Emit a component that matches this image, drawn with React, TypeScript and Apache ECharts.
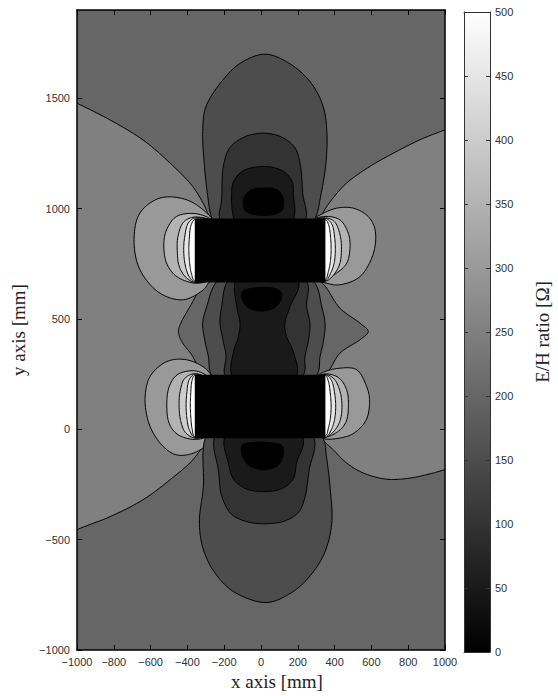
import React, { useEffect, useRef } from "react";
import * as echarts from "echarts";

// ---- axis ranges / ticks ----
const xMin = -1000, xMax = 1000, xStep = 200;
const yMin = -1000, yMax = 1900, yStep = 500;
const cbMin = 0, cbMax = 500, cbStep = 50;

// ---- conductor plates (x0, y0, x1, y1) in mm ----
const plates = [
  [-360, 665, 350, 955],
  [-360, -40, 350, 247],
];

// ---- contour regions (mm), with their level in ohm ----
// level 250
const bandLeft250 = [[-1200,1560],[-1000,1478],[-821,1402],[-641,1311],[-495,1207],[-370,1099],[-300,1000],[-280,955],[-200,800],[-200,100],[-290,-40],[-370,-138],[-495,-229],[-641,-319],[-821,-396],[-1000,-455],[-1200,-540]];
const bandRight250 = [[1200,1420],[1000,1357],[864,1312],[719,1251],[592,1191],[466,1116],[384,1040],[330,970],[250,800],[250,100],[330,-40],[393,-93],[466,-153],[556,-198],[683,-226],[810,-221],[936,-198],[1000,-183],[1200,-150]];
// level 200 (between the plates)
const gap200 = [[-304,665],[-386,556],[-440,473],[-449,443],[-431,398],[-377,338],[-313,247],[-200,200],[200,200],[348,247],[429,345],[538,406],[583,443],[538,481],[429,549],[330,665],[200,720],[-200,720]];
// lobes at the plate ends: 300, 350, 400, 450, 500
const lobeTL300 = [[-295,980],[-404,1040],[-549,1048],[-658,980],[-690,859],[-658,723],[-549,617],[-422,587],[-314,632],[-286,662],[-250,700],[-250,930]];
const lobeTL350 = [[-340,975],[-458,965],[-513,904],[-528,843],[-513,753],[-458,692],[-340,662],[-250,700],[-250,930]];
const lobeTL400 = [[-355,962],[-420,940],[-451,875],[-455,810],[-445,740],[-410,690],[-355,665],[-250,700],[-250,930]];
const lobeTL450 = [[-358,958],[-395,935],[-415,870],[-420,810],[-412,745],[-392,695],[-358,667],[-250,700],[-250,930]];
const lobeTL500 = [[-360,950],[-380,925],[-390,860],[-392,810],[-388,755],[-378,705],[-360,672],[-250,700],[-250,930]];
const lobeTR300 = [[330,975],[411,1002],[502,1002],[583,964],[620,904],[611,798],[538,692],[429,655],[357,662],[250,700],[250,930]];
const lobeTR350 = [[340,964],[429,949],[474,889],[484,828],[466,753],[411,708],[345,680],[250,700],[250,930]];
const lobeTR400 = [[352,958],[400,940],[430,880],[437,815],[428,750],[395,700],[352,672],[250,700],[250,930]];
const lobeTR450 = [[352,955],[385,930],[400,870],[404,815],[398,755],[380,710],[352,675],[250,700],[250,930]];
const lobeTR500 = [[350,950],[368,925],[378,870],[381,815],[377,760],[366,715],[350,680],[250,700],[250,930]];
const lobeBL300 = [[-295,270],[-404,315],[-512,307],[-603,239],[-630,135],[-603,13],[-531,-78],[-458,-116],[-368,-108],[-286,-63],[-250,0],[-250,200]];
const lobeBL350 = [[-340,262],[-450,250],[-498,195],[-512,110],[-498,25],[-450,-25],[-340,-45],[-250,0],[-250,200]];
const lobeBL400 = [[-355,252],[-415,230],[-440,170],[-445,105],[-437,40],[-410,-15],[-355,-40],[-250,0],[-250,200]];
const lobeBL450 = [[-358,250],[-390,225],[-403,165],[-407,105],[-402,45],[-388,-5],[-358,-38],[-250,0],[-250,200]];
const lobeBL500 = [[-360,245],[-375,220],[-382,160],[-384,105],[-381,50],[-374,0],[-360,-35],[-250,0],[-250,200]];
const lobeBR300 = [[330,255],[429,277],[520,270],[574,194],[590,134],[572,43],[500,-20],[411,-42],[340,-42],[250,0],[250,200]];
const lobeBR350 = [[340,250],[420,235],[465,180],[475,105],[460,30],[410,-15],[340,-35],[250,0],[250,200]];
const lobeBR400 = [[352,248],[400,225],[430,170],[440,105],[430,40],[400,-5],[352,-35],[250,0],[250,200]];
const lobeBR450 = [[352,246],[383,222],[400,165],[406,105],[400,45],[383,0],[352,-35],[250,0],[250,200]];
const lobeBR500 = [[350,244],[366,218],[377,160],[381,105],[377,50],[366,5],[350,-30],[250,0],[250,200]];
// level 150
const top150 = [[-268,958],[-290,1060],[-308,1200],[-317,1350],[-300,1460],[-214,1576],[-110,1660],[22,1700],[150,1660],[266,1576],[335,1470],[358,1350],[352,1200],[325,1060],[295,958],[200,850],[-200,850]];
const bot150 = [[-305,-45],[-313,-259],[-335,-420],[-315,-540],[-255,-645],[-150,-735],[27,-785],[150,-748],[248,-682],[340,-570],[384,-430],[375,-259],[355,-120],[340,-45],[200,100],[-200,100]];
const gap150 = [[-245,665],[-295,556],[-317,481],[-304,398],[-286,330],[-268,247],[-150,200],[150,200],[303,247],[321,330],[339,398],[348,481],[330,556],[290,665],[150,720],[-150,720]];
// level 100
const top100 = [[-225,958],[-214,1040],[-205,1191],[-170,1275],[-90,1325],[13,1342],[110,1325],[185,1275],[215,1191],[228,1062],[245,958],[150,850],[-150,850]];
const bot100 = [[-255,-45],[-232,-183],[-213,-304],[-160,-385],[-70,-420],[27,-428],[130,-415],[205,-375],[240,-304],[262,-183],[290,-45],[150,100],[-150,100]];
const gap100 = [[-185,665],[-214,556],[-223,481],[-205,398],[-190,330],[-196,247],[-100,200],[100,200],[230,247],[239,330],[257,398],[266,481],[248,556],[250,665],[100,720],[-100,720]];
// level 50
const top50 = [[-150,960],[-160,1062],[-150,1120],[-100,1170],[16,1191],[120,1170],[170,1120],[176,1062],[180,960],[100,850],[-100,850]];
const bot50 = [[-200,-45],[-178,-150],[-150,-225],[-80,-270],[13,-282],[110,-270],[175,-225],[194,-150],[230,-45],[100,100],[-100,100]];
const gap50 = [[-140,665],[-132,556],[-114,481],[-123,420],[-150,350],[-159,247],[-80,200],[80,200],[194,247],[176,350],[139,420],[130,481],[158,556],[205,665],[80,720],[-80,720]];
// level 0
const top0 = [[-85,990],[-95,1040],[-60,1082],[17,1094],[95,1082],[122,1040],[112,990],[60,972],[-30,972]];
const gap0 = [[-100,625],[-105,595],[-70,552],[0,536],[75,552],[112,595],[100,630],[0,642]];
const bot0 = [[-100,-70],[-105,-110],[-70,-160],[13,-183],[90,-165],[120,-120],[115,-75],[40,-60],[-40,-60]];

const backgroundLevel = 200;

const contours = [
  { level: 250, pts: bandLeft250 },
  { level: 250, pts: bandRight250 },
  { level: 200, pts: gap200 },
  { level: 300, pts: lobeTL300 }, { level: 300, pts: lobeTR300 }, { level: 300, pts: lobeBL300 }, { level: 300, pts: lobeBR300 },
  { level: 350, pts: lobeTL350 }, { level: 350, pts: lobeTR350 }, { level: 350, pts: lobeBL350 }, { level: 350, pts: lobeBR350 },
  { level: 400, pts: lobeTL400 }, { level: 400, pts: lobeTR400 }, { level: 400, pts: lobeBL400 }, { level: 400, pts: lobeBR400 },
  { level: 450, pts: lobeTL450 }, { level: 450, pts: lobeTR450 }, { level: 450, pts: lobeBL450 }, { level: 450, pts: lobeBR450 },
  { level: 500, pts: lobeTL500 }, { level: 500, pts: lobeTR500 }, { level: 500, pts: lobeBL500 }, { level: 500, pts: lobeBR500 },
  { level: 150, pts: top150 }, { level: 150, pts: bot150 }, { level: 150, pts: gap150 },
  { level: 100, pts: top100 }, { level: 100, pts: bot100 }, { level: 100, pts: gap100 },
  { level: 50, pts: top50 }, { level: 50, pts: bot50 }, { level: 50, pts: gap50 },
  { level: 0, pts: top0 }, { level: 0, pts: gap0 }, { level: 0, pts: bot0 },
];

function grayOf(level: number) {
  const g = Math.max(0, Math.min(255, Math.round((level / cbMax) * 255)));
  const h = g.toString(16).padStart(2, "0");
  return "#" + h + h + h;
}

const minus = (v: number) => String(v).replace("-", "\u2212");

// centripetal Catmull-Rom through the (already projected) contour points, closed loop
function smoothClosed(pts: number[][], seg = 10): number[][] {
  const n = pts.length;
  const out: number[][] = [];
  const d = (a: number[], b: number[]) => Math.max(1e-4, Math.pow(Math.hypot(b[0] - a[0], b[1] - a[1]), 0.5));
  const lerp = (a: number[], b: number[], ta: number, tb: number, t: number) => {
    const w = (t - ta) / (tb - ta);
    return [a[0] + (b[0] - a[0]) * w, a[1] + (b[1] - a[1]) * w];
  };
  for (let i = 0; i < n; i++) {
    const p0 = pts[(i - 1 + n) % n], p1 = pts[i], p2 = pts[(i + 1) % n], p3 = pts[(i + 2) % n];
    const t0 = 0, t1 = t0 + d(p0, p1), t2 = t1 + d(p1, p2), t3 = t2 + d(p2, p3);
    for (let k = 0; k < seg; k++) {
      const t = t1 + ((t2 - t1) * k) / seg;
      const a1 = lerp(p0, p1, t0, t1, t);
      const a2 = lerp(p1, p2, t1, t2, t);
      const a3 = lerp(p2, p3, t2, t3, t);
      const b1 = lerp(a1, a2, t0, t2, t);
      const b2 = lerp(a2, a3, t1, t3, t);
      out.push(lerp(b1, b2, t1, t2, t));
    }
  }
  return out;
}

export default function App() {
  const ref = useRef<HTMLDivElement>(null);
  useEffect(() => {
    document.body.style.margin = "0";
    const chart = echarts.init(ref.current!, null, { renderer: "svg" });
    const labelFont = { fontFamily: "Liberation Sans", fontSize: 11, color: "#333" };
    const nameFont = { fontFamily: "Liberation Serif", fontSize: 19, color: "#222" };
    const lineStyle = { color: "#000", width: 1.5 };
    const tickStyle = { inside: true, length: 5, lineStyle: { color: "#000", width: 1 } };
    chart.setOption({
      animation: false,
      grid: [
        { left: 77, right: 113, top: 10, bottom: 46, show: true, backgroundColor: grayOf(backgroundLevel), borderWidth: 0 },
        { left: 464, top: 12, width: 26, height: 640, show: false },
      ],
      xAxis: [
        {
          gridIndex: 0, type: "value", min: xMin, max: xMax, interval: xStep, position: "bottom", z: 10,
          axisLine: { onZero: false, lineStyle }, axisTick: tickStyle, splitLine: { show: false },
          axisLabel: { ...labelFont, margin: 6, formatter: minus },
          name: "x axis [mm]", nameLocation: "middle", nameGap: 22,
          nameTextStyle: { ...nameFont, padding: [0, 0, 0, 32] },
        },
        {
          gridIndex: 0, type: "value", min: xMin, max: xMax, interval: xStep, position: "top", z: 10,
          axisLine: { onZero: false, lineStyle }, axisTick: tickStyle, splitLine: { show: false },
          axisLabel: { show: false },
        },
        {
          gridIndex: 1, type: "value", min: 0, max: 1, position: "bottom", z: 10,
          axisLine: { onZero: false, lineStyle: { color: "#333", width: 1 } }, axisTick: { show: false },
          axisLabel: { show: false }, splitLine: { show: false },
        },
        {
          gridIndex: 1, type: "value", min: 0, max: 1, position: "top", z: 10,
          axisLine: { onZero: false, lineStyle: { color: "#333", width: 1 } }, axisTick: { show: false },
          axisLabel: { show: false }, splitLine: { show: false },
        },
      ],
      yAxis: [
        {
          gridIndex: 0, type: "value", min: yMin, max: yMax, interval: yStep, position: "left", z: 10,
          axisLine: { onZero: false, lineStyle }, axisTick: tickStyle, splitLine: { show: false },
          axisLabel: { ...labelFont, margin: 7, formatter: minus, showMaxLabel: false },
          name: "y axis [mm]", nameLocation: "middle", nameGap: 44, nameRotate: 90,
          nameTextStyle: nameFont,
        },
        {
          gridIndex: 0, type: "value", min: yMin, max: yMax, interval: yStep, position: "right", z: 10,
          axisLine: { onZero: false, lineStyle }, axisTick: tickStyle, splitLine: { show: false },
          axisLabel: { show: false },
        },
        {
          gridIndex: 1, type: "value", min: cbMin, max: cbMax, interval: cbStep, position: "right", z: 10,
          axisLine: { onZero: false, lineStyle: { color: "#333", width: 1 } },
          axisTick: { inside: true, length: 4, lineStyle: { color: "#333", width: 1 } }, splitLine: { show: false },
          axisLabel: { ...labelFont, margin: 5 },
          name: "E/H ratio [\u03A9]", nameLocation: "middle", nameGap: 43, nameRotate: 90,
          nameTextStyle: nameFont,
        },
        {
          gridIndex: 1, type: "value", min: cbMin, max: cbMax, interval: cbStep, position: "left", z: 10,
          axisLine: { onZero: false, lineStyle: { color: "#333", width: 1 } },
          axisTick: { inside: true, length: 4, lineStyle: { color: "#333", width: 1 } }, splitLine: { show: false },
          axisLabel: { show: false },
        },
      ],
      series: [
        {
          type: "custom", xAxisIndex: 0, yAxisIndex: 0, clip: true, silent: true,
          data: contours.map((c) => [c.pts[0][0], c.pts[0][1], c.level]),
          encode: { x: 0, y: 1 },
          renderItem: (params: any, api: any) => {
            const c = contours[params.dataIndex];
            const pts = smoothClosed(c.pts.map((p) => api.coord(p)));
            return {
              type: "polygon",
              shape: { points: pts },
              style: { fill: grayOf(c.level), stroke: "#000", lineWidth: 1 },
            };
          },
        },
        {
          type: "custom", xAxisIndex: 0, yAxisIndex: 0, clip: true, silent: true,
          data: plates,
          encode: { x: [0, 2], y: [1, 3] },
          renderItem: (params: any, api: any) => {
            const p = plates[params.dataIndex];
            const a = api.coord([p[0], p[3]]);
            const b = api.coord([p[2], p[1]]);
            return {
              type: "rect",
              shape: { x: a[0], y: a[1], width: b[0] - a[0], height: b[1] - a[1] },
              style: { fill: grayOf(0) },
            };
          },
        },
        {
          type: "custom", xAxisIndex: 2, yAxisIndex: 2, clip: false, silent: true,
          data: [[0, cbMin, 1, cbMax]],
          encode: { x: [0, 2], y: [1, 3] },
          renderItem: (params: any, api: any) => {
            const a = api.coord([0, cbMax]);
            const b = api.coord([1, cbMin]);
            return {
              type: "rect",
              shape: { x: a[0], y: a[1], width: b[0] - a[0], height: b[1] - a[1] },
              style: {
                fill: new echarts.graphic.LinearGradient(0, 1, 0, 0, [
                  { offset: 0, color: grayOf(cbMin) },
                  { offset: 1, color: grayOf(cbMax) },
                ]),
              },
            };
          },
        },
      ],
    });
    return () => chart.dispose();
  }, []);
  return <div ref={ref} style={{ width: 558, height: 696 }} />;
}
